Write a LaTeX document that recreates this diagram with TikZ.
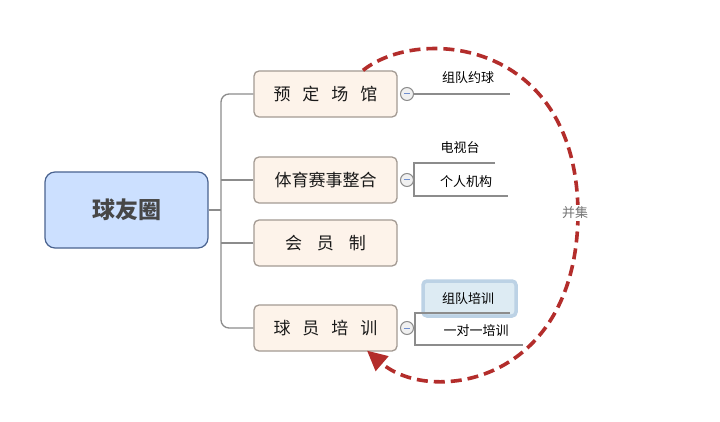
\documentclass[tikz,border=0pt]{standalone}
\usepackage{fontspec}
\setmainfont{Noto Sans CJK SC}
\usetikzlibrary{arrows.meta}
\definecolor{rootfill}{HTML}{CCE0FF}
\definecolor{rootdraw}{HTML}{4A6390}
\definecolor{topicfill}{HTML}{FDF3EA}
\definecolor{topicdraw}{HTML}{A39A93}
\definecolor{connc}{HTML}{8C8C8C}
\definecolor{arcred}{HTML}{B32D2B}
\definecolor{hlfill}{HTML}{DDEBF3}
\definecolor{hldraw}{HTML}{BCD2E5}
\definecolor{minusblue}{HTML}{6F8FD0}
\tikzset{
  rootbox/.style={draw=rootdraw, fill=rootfill, line width=1.2pt, rounded corners=10pt,
    minimum width=163pt, minimum height=76pt, font=\fontsize{23}{23}\selectfont\bfseries, text=black!72},
  topicbox/.style={draw=topicdraw, fill=topicfill, line width=1.3pt, rounded corners=5pt,
    minimum width=143pt, minimum height=46pt, font=\fontsize{17}{17}\selectfont, text=black!90},
  subtext/.style={font=\fontsize{13}{13}\selectfont, text=black, inner sep=0pt},
  conn/.style={draw=connc, line width=1.3pt},
  collapse/.style={circle, draw=connc, fill=black!6, line width=1pt, minimum size=13pt, inner sep=0pt},
  hlbox/.style={draw=hldraw, fill=hlfill, line width=3.5pt, rounded corners=4pt,
    minimum width=93pt, minimum height=35pt},
  arcline/.style={draw=arcred, line width=3.6pt, dash pattern=on 11pt off 6pt},
}
\newcommand{\tsp}{\hspace{12pt}}
\newcommand{\minussign}[1]{\draw[minusblue, line width=1pt] ([xshift=-3pt]#1.center) -- ([xshift=3pt]#1.center);}
\begin{document}
\begin{tikzpicture}[x=1pt,y=-1pt]
\useasboundingbox (0,0) rectangle (720,422);
\fill[white] (0,0) rectangle (720,422);

% root and topics
\node[rootbox] (root) at (126.5,210) {球友圈};
\node[topicbox] (t1) at (325.5,94) {预\tsp 定\tsp 场\tsp 馆};
\node[topicbox] (t2) at (325.5,180) {体育赛事整合};
\node[topicbox] (t3) at (325.5,243) {会\hspace{15pt}员\hspace{15pt}制};
\node[topicbox] (t4) at (325.5,328) {球\tsp 员\tsp 培\tsp 训};

% main connectors
\coordinate (j) at (221,210);
\draw[conn] (root.east) -- (j);
\draw[conn, rounded corners=8pt] (t1.west) -| (j) |- (t4.west);
\draw[conn] (t2.west) -- (t2.west -| j);
\draw[conn] (t3.west) -- (t3.west -| j);

% collapse circles
\node[collapse] (c1) at (407,94) {};
\node[collapse] (c2) at (407,180) {};
\node[collapse] (c4) at (407,328) {};
\minussign{c1}\minussign{c2}\minussign{c4}

% branch 1
\coordinate (e1) at (510,94);
\draw[conn] (c1.east) -- (e1);
\node[subtext] (s1) at (468,78) {组队约球};

% branch 2
\coordinate (b2t) at (414,163);
\coordinate (b2b) at (414,196);
\coordinate (e2t) at (495,163);
\coordinate (e2b) at (508,196);
\draw[conn] (c2.east) -- (c2.east -| b2t);
\draw[conn] (e2t) -- (b2t) -- (b2b) -- (e2b);
\node[subtext] (s21) at (460,148) {电视台};
\node[subtext] (s22) at (466,182) {个人机构};

% branch 4
\node[hlbox] (hl) at (469.5,298.5) {};
\node[subtext] (s41) at (468,299) {组队培训};
\coordinate (b4t) at (415,313);
\coordinate (b4b) at (415,345);
\coordinate (e4t) at (510,313);
\coordinate (e4b) at (523,345);
\draw[conn] (c4.east) -- (c4.east -| b4t);
\draw[conn] (e4t) -- (b4t) -- (b4b) -- (e4b);
\node[subtext] (s42) at (476,331) {一对一培训};

% union arc
\coordinate (as) at ([xshift=37.5pt]t1.north);
\coordinate (am) at (578,215);
\coordinate (ae) at ([xshift=41.5pt,yshift=1pt]t4.south);
\draw[arcline, -{Triangle[length=20pt,width=19pt]}]
  (as) .. controls (420,25) and (578,40) .. (am)
       .. controls (576,385) and (430,405) .. (ae);
\node[fill=white, text=black!55, inner sep=1.5pt, font=\fontsize{13}{13}\selectfont] (lbl) at (575,213) {并集};
\end{tikzpicture}
\end{document}
